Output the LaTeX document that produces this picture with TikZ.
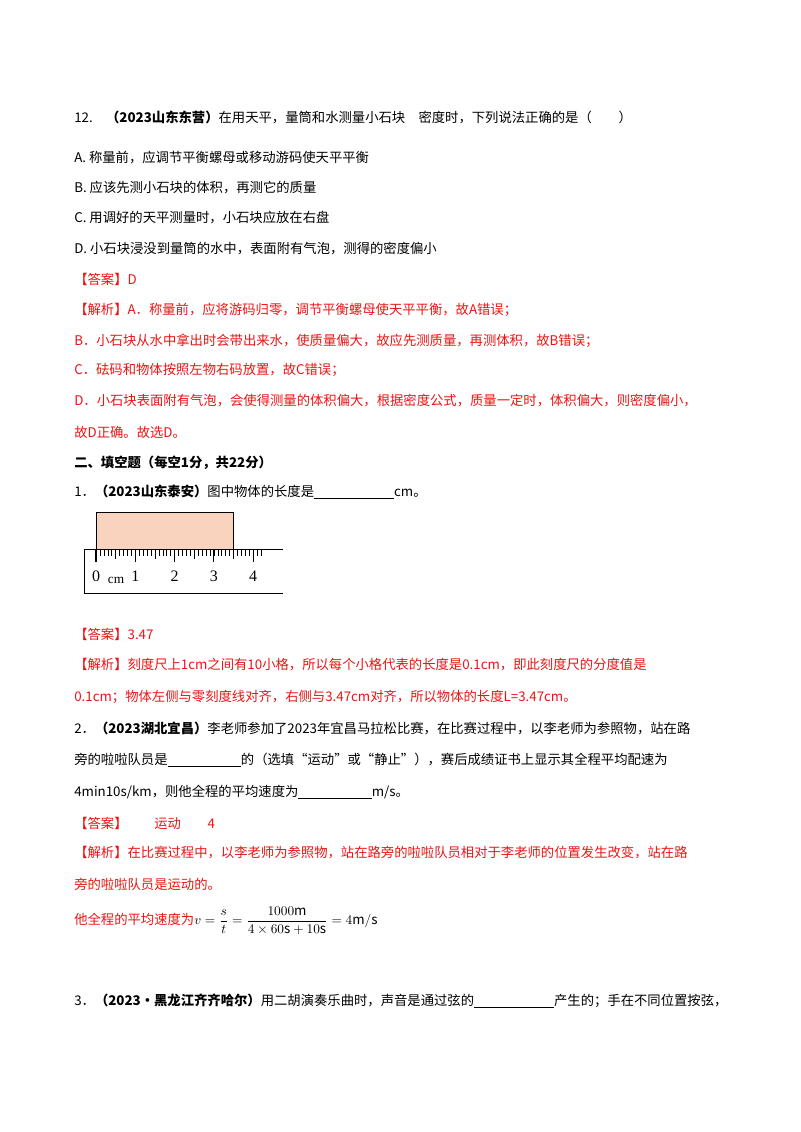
\documentclass[tikz,border=0pt]{standalone}
\usepackage{amsmath}
\usepackage{fontspec}
\setmainfont{Noto Sans CJK SC}
\newfontfamily\serifnum{Liberation Serif}
\definecolor{ansred}{RGB}{235,20,20}
\definecolor{peach}{RGB}{249,211,190}
\newcommand{\blank}[1]{\underline{\hspace{#1}}}
\begin{document}
\begin{tikzpicture}[x=0.75pt,y=-0.75pt, font=\fontsize{10pt}{12pt}\selectfont,
  line/.style={anchor=west, inner sep=0pt},
  ans/.style={line, text=ansred}]
\useasboundingbox (0,0) rectangle (800,1132);
% question 12
\node[line] (q12) at (74,117) {12.\quad\textbf{（2023山东东营）}在用天平，量筒和水测量小石块\quad 密度时，下列说法正确的是（\qquad）};
\node[line] (qa) at (74,158) {A.\ 称量前，应调节平衡螺母或移动游码使天平平衡};
\node[line] (qb) at (74,188) {B.\ 应该先测小石块的体积，再测它的质量};
\node[line] (qc) at (74,218) {C.\ 用调好的天平测量时，小石块应放在右盘};
\node[line] (qd) at (74,249) {D.\ 小石块浸没到量筒的水中，表面附有气泡，测得的密度偏小};
\node[ans] (ans12) at (74,279) {【答案】D};
\node[ans] (jx1) at (74,310) {【解析】A．称量前，应将游码归零，调节平衡螺母使天平平衡，故A错误；};
\node[ans] (jx2) at (74,341) {B．小石块从水中拿出时会带出来水，使质量偏大，故应先测质量，再测体积，故B错误；};
\node[ans] (jx3) at (74,370) {C．砝码和物体按照左物右码放置，故C错误；};
\node[ans] (jx4) at (74,401) {D．小石块表面附有气泡，会使得测量的体积偏大，根据密度公式，质量一定时，体积偏大，则密度偏小，};
\node[ans] (jx5) at (74,432) {故D正确。故选D。};
% section
\node[line] (sec) at (74,463) {\textbf{二、填空题（每空1分，共22分）}};
\node[line] (q1) at (74,492) {1．\textbf{（2023山东泰安）}图中物体的长度是\blank{60pt}cm。};
% ruler
\fill[peach] (96,512) rectangle (233,549);
\draw (96,512) rectangle (233,549);
\draw (283,549) -- (84,549) -- (84,593) -- (283,593);
\foreach \i in {0,...,42}
{
  \draw (96+3.93*\i,549) -- ++(0,7);
}
\foreach \i in {5,15,25,35}
{
  \draw (96+3.93*\i,549) -- ++(0,10);
}
\foreach \i in {0,...,4}
{
  \draw[thick] (96+39.3*\i,549) -- ++(0,13);
  \node[font=\serifnum\fontsize{12pt}{12pt}\selectfont] (n\i) at (96+39.3*\i,576) {\i};
}
\node[font=\serifnum\fontsize{10pt}{10pt}\selectfont] (cm) at (116,580) {cm};
% answers 1
\node[ans] (ans1) at (74,634) {【答案】3.47};
\node[ans] (jx6) at (74,665) {【解析】刻度尺上1cm之间有10小格，所以每个小格代表的长度是0.1cm，即此刻度尺的分度值是};
\node[ans] (jx7) at (74,697) {0.1cm；物体左侧与零刻度线对齐，右侧与3.47cm对齐，所以物体的长度\textit{L}=3.47cm。};
% question 2
\node[line] (q2a) at (74,728) {2．\textbf{（2023湖北宜昌）}李老师参加了2023年宜昌马拉松比赛，在比赛过程中，以李老师为参照物，站在路};
\node[line] (q2b) at (74,760) {旁的啦啦队员是\blank{55pt}的（选填“运动”或“静止”），赛后成绩证书上显示其全程平均配速为};
\node[line] (q2c) at (74,792) {4min10s/km，则他全程的平均速度为\blank{55pt}m/s。};
\node[ans] (ans2) at (74,823) {【答案】\qquad 运动\qquad 4};
\node[ans] (jx8) at (74,853) {【解析】在比赛过程中，以李老师为参照物，站在路旁的啦啦队员相对于李老师的位置发生改变，站在路};
\node[ans] (jx9) at (74,884) {旁的啦啦队员是运动的。};
\node[ans] (jx10) at (74,921) {他全程的平均速度为{\color{black}$v=\dfrac{s}{t}=\dfrac{1000\mathrm{m}}{4\times60\mathrm{s}+10\mathrm{s}}=4\mathrm{m}/\mathrm{s}$}};
% question 3
\node[line] (q3) at (74,1001) {3．\textbf{（2023·黑龙江齐齐哈尔）}用二胡演奏乐曲时，声音是通过弦的\blank{60pt}产生的；手在不同位置按弦，};
\end{tikzpicture}
\end{document}
